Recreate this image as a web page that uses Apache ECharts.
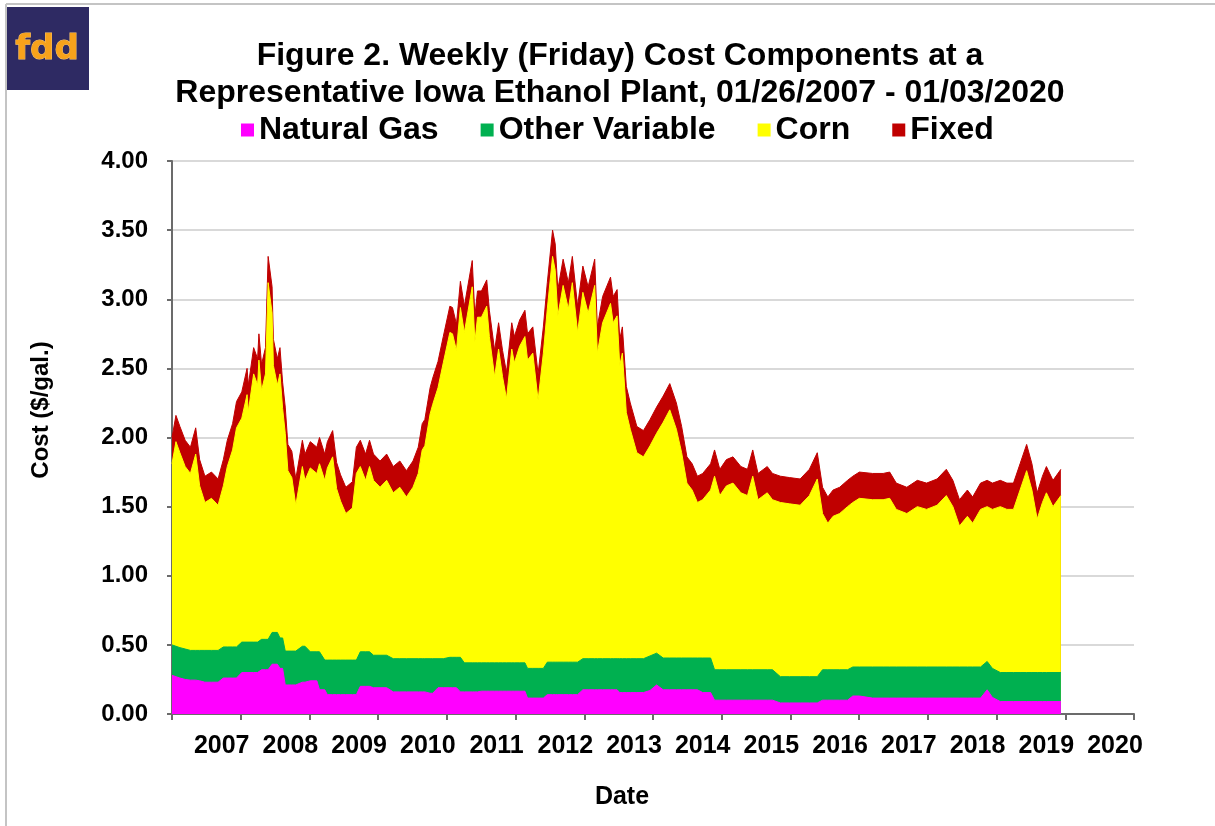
<!DOCTYPE html>
<html>
<head>
<meta charset="utf-8">
<title>Weekly Cost Components - Iowa Ethanol Plant</title>
<script src="https://cdn.jsdelivr.net/npm/echarts@6/dist/echarts.min.js"></script>
<style>
	html, body { margin: 0; padding: 0; background: #ffffff; }
	#chart { width: 1215px; height: 826px; }
</style>
</head>
<body>
<div id="chart"></div>
<script>
// weeks since Friday 01/26/2007 (week 675 = 01/03/2020)
const weeks = [
	0, 3, 6, 10, 14, 18, 21, 25, 30, 35, 39, 42, 46, 49, 53, 57, 58, 62, 65, 66,
	68, 71, 73, 76, 77, 80, 82, 84, 86, 88, 91, 94, 99, 101, 105, 110, 112, 116, 118, 122,
	125, 128, 132, 137, 140, 143, 147, 150, 153, 158, 163, 168, 173, 178, 183, 187, 190, 192, 196, 198,
	202, 206, 211, 213, 216, 219, 222, 228, 230, 232, 235, 239, 241, 245, 248, 251, 254, 258, 260, 264,
	268, 270, 274, 278, 282, 285, 289, 291, 293, 297, 301, 304, 308, 312, 316, 321, 323, 327, 333, 335,
	338, 340, 342, 345, 348, 353, 358, 363, 368, 373, 378, 383, 387, 391, 395, 399, 403, 409, 412, 416,
	421, 426, 432, 437, 441, 445, 452, 456, 462, 469, 477, 484, 490, 494, 498, 502, 507, 513, 517, 522,
	532, 540, 545, 550, 558, 566, 573, 581, 588, 593, 598, 604, 608, 614, 619, 623, 629, 634, 639, 644,
	649, 653, 657, 661, 664, 669, 675
];

const naturalGas = [
	0.28, 0.27, 0.26, 0.25, 0.245, 0.245, 0.24, 0.23, 0.23, 0.23, 0.26, 0.26, 0.26, 0.26, 0.30, 0.30, 0.30, 0.30, 0.30, 0.30,
	0.32, 0.32, 0.32, 0.36, 0.36, 0.36, 0.33, 0.33, 0.21, 0.21, 0.21, 0.21, 0.23, 0.23, 0.24, 0.24, 0.175, 0.175, 0.14, 0.14,
	0.14, 0.14, 0.14, 0.14, 0.14, 0.20, 0.20, 0.20, 0.19, 0.19, 0.19, 0.16, 0.16, 0.16, 0.16, 0.16, 0.16, 0.16, 0.15, 0.15,
	0.19, 0.19, 0.19, 0.19, 0.19, 0.16, 0.16, 0.16, 0.16, 0.16, 0.165, 0.165, 0.165, 0.165, 0.165, 0.165, 0.165, 0.165, 0.165, 0.165,
	0.165, 0.115, 0.115, 0.115, 0.115, 0.14, 0.14, 0.14, 0.14, 0.14, 0.14, 0.14, 0.14, 0.175, 0.175, 0.175, 0.175, 0.175, 0.175, 0.175,
	0.175, 0.155, 0.155, 0.155, 0.155, 0.155, 0.155, 0.17, 0.21, 0.175, 0.175, 0.175, 0.175, 0.175, 0.175, 0.175, 0.155, 0.155, 0.10, 0.10,
	0.10, 0.10, 0.10, 0.10, 0.10, 0.10, 0.10, 0.10, 0.08, 0.08, 0.08, 0.08, 0.08, 0.10, 0.10, 0.10, 0.10, 0.10, 0.13, 0.13,
	0.115, 0.115, 0.115, 0.115, 0.115, 0.115, 0.115, 0.115, 0.115, 0.115, 0.115, 0.115, 0.115, 0.115, 0.175, 0.12, 0.09, 0.09, 0.09, 0.09,
	0.09, 0.09, 0.09, 0.09, 0.09, 0.09, 0.09
];

const otherVariable = [
	0.22, 0.22, 0.22, 0.22, 0.215, 0.215, 0.22, 0.23, 0.23, 0.23, 0.225, 0.225, 0.225, 0.225, 0.22, 0.22, 0.22, 0.22, 0.22, 0.22,
	0.22, 0.22, 0.22, 0.23, 0.23, 0.23, 0.22, 0.22, 0.245, 0.245, 0.245, 0.245, 0.26, 0.26, 0.21, 0.21, 0.275, 0.215, 0.25, 0.25,
	0.25, 0.25, 0.25, 0.25, 0.25, 0.25, 0.25, 0.25, 0.235, 0.235, 0.235, 0.24, 0.24, 0.24, 0.24, 0.24, 0.24, 0.24, 0.25, 0.25,
	0.21, 0.21, 0.22, 0.22, 0.22, 0.25, 0.21, 0.21, 0.21, 0.21, 0.205, 0.205, 0.205, 0.205, 0.205, 0.205, 0.205, 0.205, 0.205, 0.205,
	0.205, 0.215, 0.215, 0.215, 0.215, 0.235, 0.235, 0.235, 0.235, 0.235, 0.235, 0.235, 0.235, 0.225, 0.225, 0.225, 0.225, 0.225, 0.225, 0.225,
	0.225, 0.245, 0.245, 0.245, 0.245, 0.245, 0.245, 0.25, 0.23, 0.23, 0.23, 0.23, 0.23, 0.23, 0.23, 0.23, 0.25, 0.25, 0.22, 0.22,
	0.22, 0.22, 0.22, 0.22, 0.22, 0.22, 0.22, 0.22, 0.19, 0.19, 0.19, 0.19, 0.19, 0.22, 0.22, 0.22, 0.22, 0.22, 0.21, 0.21,
	0.225, 0.225, 0.225, 0.225, 0.225, 0.225, 0.225, 0.225, 0.225, 0.225, 0.225, 0.225, 0.225, 0.225, 0.205, 0.21, 0.21, 0.21, 0.21, 0.21,
	0.21, 0.21, 0.21, 0.21, 0.21, 0.21, 0.21
];

const corn = [
	1.31, 1.48, 1.41, 1.32, 1.28, 1.42, 1.19, 1.07, 1.10, 1.05, 1.165, 1.305, 1.425, 1.585, 1.62, 1.79, 1.67, 1.94, 1.86, 2.04,
	1.80, 1.92, 2.58, 2.31, 1.93, 1.79, 1.91, 1.66, 1.575, 1.305, 1.255, 1.055, 1.30, 1.20, 1.33, 1.29, 1.36, 1.30, 1.39, 1.47,
	1.24, 1.15, 1.06, 1.10, 1.35, 1.34, 1.24, 1.34, 1.265, 1.215, 1.265, 1.20, 1.24, 1.17, 1.24, 1.34, 1.51, 1.54, 1.77, 1.84,
	1.96, 2.14, 2.35, 2.34, 2.22, 2.53, 2.39, 2.72, 2.32, 2.50, 2.50, 2.58, 2.36, 2.07, 2.27, 2.07, 1.91, 2.27, 2.17, 2.29,
	2.36, 2.23, 2.28, 1.94, 2.28, 2.555, 2.935, 2.835, 2.505, 2.725, 2.555, 2.745, 2.385, 2.65, 2.50, 2.70, 2.21, 2.43, 2.57, 2.43,
	2.48, 2.12, 2.21, 1.78, 1.66, 1.49, 1.46, 1.52, 1.59, 1.705, 1.795, 1.655, 1.485, 1.265, 1.215, 1.125, 1.145, 1.215, 1.40, 1.26,
	1.33, 1.35, 1.28, 1.26, 1.40, 1.23, 1.28, 1.23, 1.26, 1.25, 1.24, 1.31, 1.43, 1.13, 1.06, 1.11, 1.13, 1.18, 1.19, 1.22,
	1.21, 1.21, 1.22, 1.14, 1.11, 1.16, 1.14, 1.17, 1.24, 1.16, 1.02, 1.09, 1.04, 1.14, 1.12, 1.15, 1.20, 1.18, 1.18, 1.32,
	1.46, 1.32, 1.11, 1.23, 1.30, 1.20, 1.28
];

const fixed = [
	0.19, 0.19, 0.19, 0.19, 0.19, 0.19, 0.19, 0.19, 0.19, 0.19, 0.19, 0.19, 0.19, 0.19, 0.19, 0.19, 0.19, 0.19, 0.19, 0.19,
	0.19, 0.19, 0.19, 0.19, 0.19, 0.19, 0.19, 0.19, 0.19, 0.19, 0.19, 0.19, 0.19, 0.19, 0.19, 0.19, 0.19, 0.19, 0.19, 0.19,
	0.19, 0.19, 0.19, 0.19, 0.19, 0.19, 0.19, 0.19, 0.19, 0.19, 0.19, 0.19, 0.19, 0.19, 0.19, 0.19, 0.19, 0.19, 0.19, 0.19,
	0.19, 0.19, 0.19, 0.19, 0.19, 0.19, 0.19, 0.19, 0.19, 0.19, 0.19, 0.19, 0.19, 0.19, 0.19, 0.19, 0.19, 0.19, 0.19, 0.19,
	0.19, 0.19, 0.19, 0.19, 0.19, 0.19, 0.19, 0.19, 0.19, 0.19, 0.19, 0.19, 0.19, 0.19, 0.19, 0.19, 0.19, 0.19, 0.19, 0.19,
	0.19, 0.19, 0.19, 0.19, 0.19, 0.19, 0.19, 0.19, 0.19, 0.19, 0.19, 0.19, 0.19, 0.19, 0.19, 0.19, 0.19, 0.19, 0.19, 0.19,
	0.19, 0.19, 0.19, 0.19, 0.19, 0.19, 0.19, 0.19, 0.19, 0.19, 0.19, 0.19, 0.19, 0.19, 0.19, 0.19, 0.19, 0.19, 0.19, 0.19,
	0.19, 0.19, 0.19, 0.19, 0.19, 0.19, 0.19, 0.19, 0.19, 0.19, 0.19, 0.19, 0.19, 0.19, 0.19, 0.19, 0.19, 0.19, 0.19, 0.19,
	0.19, 0.19, 0.19, 0.19, 0.19, 0.19, 0.19
];

const yearLabels = ["2007", "2008", "2009", "2010", "2011", "2012", "2013", "2014", "2015", "2016", "2017", "2018", "2019", "2020"];

const colors = {
	gas: "#ff00ff",
	other: "#00b050",
	corn: "#ffff00",
	fixed: "#c00000",
	ink: "#000000",
	axis: "#6b6b6b",
	grid: "#d9d9d9",
	frame: "#c4c4c4"
};

const font = "'Liberation Sans', Arial, sans-serif";
const weeksPerYear = 52.18;

// running totals, bottom layer first; each band is drawn as an area from 0 up to its running top
const layers = [
	{ name: "Natural Gas", values: naturalGas, color: colors.gas },
	{ name: "Other Variable", values: otherVariable, color: colors.other },
	{ name: "Corn", values: corn, color: colors.corn },
	{ name: "Fixed", values: fixed, color: colors.fixed }
];
const running = weeks.map(() => 0);
const tops = layers.map(l => l.values.map((v, i) => (running[i] += v)));

// x is years since the first Friday, so yearly ticks start at the axis origin
const points = top => weeks.map((w, i) => [w / weeksPerYear, +top[i].toFixed(4)]);

const series = layers
	.map((l, k) => ({
		name: l.name,
		type: "line",
		data: points(tops[k]),
		symbol: "none",
		lineStyle: { width: 1, color: l.color },
		itemStyle: { color: l.color },
		areaStyle: { color: l.color, opacity: 1, origin: "start" },
		emphasis: { disabled: true }
	}))
	.reverse(); // tallest band painted first, lower bands over it

const chart = echarts.init(document.getElementById("chart"), null, { renderer: "canvas" });

chart.setOption({
	animation: false,
	textStyle: { fontFamily: font },
	title: {
		text: "Figure 2. Weekly (Friday) Cost Components at a\nRepresentative Iowa Ethanol Plant, 01/26/2007 - 01/03/2020",
		left: 620,
		top: 38,
		textAlign: "center",
		padding: 0,
		textStyle: { fontFamily: font, fontSize: 32, fontWeight: "bold", color: colors.ink, lineHeight: 37 }
	},
	legend: {
		left: 241,
		top: 114,
		padding: 0,
		itemGap: 42,
		itemWidth: 13,
		itemHeight: 13,
		icon: "rect",
		textStyle: { fontFamily: font, fontSize: 32, fontWeight: "bold", color: colors.ink },
		data: layers.map(l => l.name)
	},
	grid: { left: 172, right: 81, top: 161, bottom: 112, containLabel: false },
	xAxis: {
		type: "value",
		min: 0,
		max: yearLabels.length,
		interval: 1,
		axisLine: { lineStyle: { color: colors.axis, width: 2 } },
		axisTick: { show: true, inside: false, length: 6, lineStyle: { color: colors.axis, width: 2 } },
		splitLine: { show: false },
		axisLabel: {
			margin: 20,
			padding: [0, 38, 0, 0],
			fontSize: 25,
			fontWeight: "bold",
			color: colors.ink,
			fontFamily: font,
			formatter: v => (v >= 1 ? yearLabels[Math.round(v) - 1] : "")
		}
	},
	yAxis: {
		type: "value",
		min: 0,
		max: 4,
		interval: 0.5,
		axisLine: { show: true, lineStyle: { color: colors.axis, width: 2 } },
		axisTick: { show: true, inside: false, length: 5, lineStyle: { color: colors.axis, width: 2 } },
		splitLine: { lineStyle: { color: colors.grid, width: 2 } },
		axisLabel: {
			margin: 24,
			fontSize: 24,
			fontWeight: "bold",
			color: colors.ink,
			fontFamily: font,
			formatter: v => v.toFixed(2)
		}
	},
	series,
	graphic: [
		// page frame
		{ type: "line", shape: { x1: 6, y1: 4, x2: 1215, y2: 4 }, style: { stroke: colors.frame, lineWidth: 2 } },
		{ type: "line", shape: { x1: 6, y1: 4, x2: 6, y2: 826 }, style: { stroke: colors.frame, lineWidth: 2 } },
		// fdd logo
		{ type: "rect", shape: { x: 7, y: 7, width: 82, height: 83 }, style: { fill: "#2e2a63" } },
		{
			type: "text",
			x: 47,
			y: 50,
			style: {
				text: "fdd",
				fill: "#f7a21b",
				stroke: "#f9c46a",
				lineWidth: 1,
				font: "bold 34px 'DejaVu Sans', sans-serif",
				align: "center",
				verticalAlign: "middle"
			}
		},
		// axis titles
		{
			type: "text",
			x: 41,
			y: 410,
			rotation: Math.PI / 2,
			style: {
				text: "Cost ($/gal.)",
				fill: colors.ink,
				font: "bold 24px " + font,
				align: "center",
				verticalAlign: "middle"
			}
		},
		{
			type: "text",
			x: 622,
			y: 797,
			style: {
				text: "Date",
				fill: colors.ink,
				font: "bold 25px " + font,
				align: "center",
				verticalAlign: "middle"
			}
		}
	]
});
</script>
</body>
</html>
